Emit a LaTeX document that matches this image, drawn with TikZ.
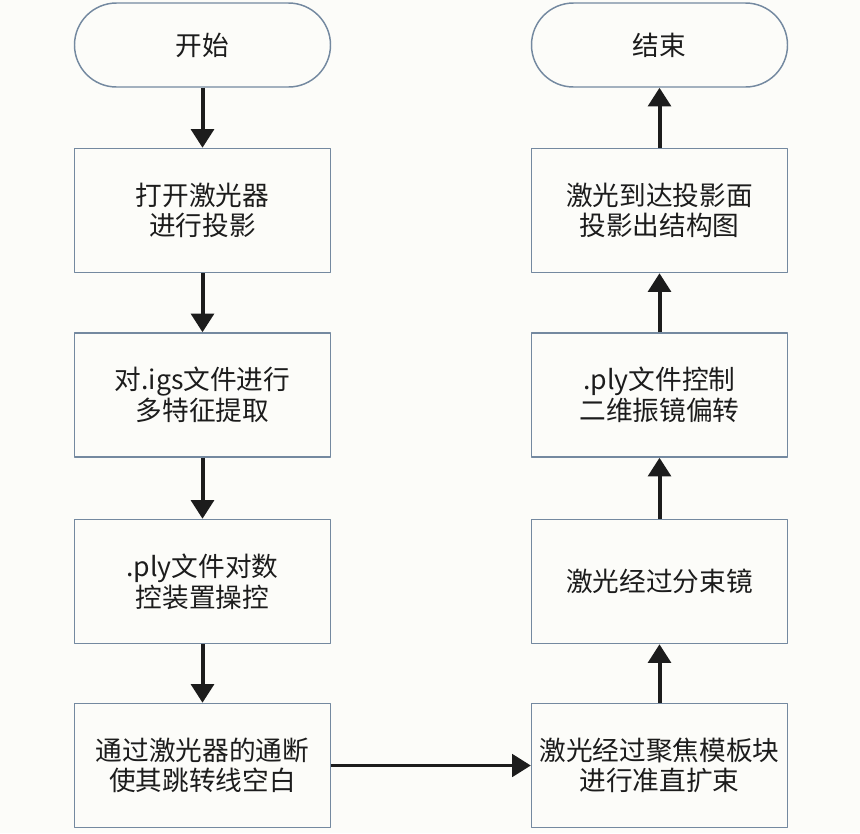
\documentclass[tikz,border=0pt]{standalone}
\usepackage{fontspec}
\setmainfont{Noto Sans CJK SC}
\usetikzlibrary{arrows.meta}
\definecolor{bg}{HTML}{FCFCF9}
\definecolor{edge}{HTML}{7489A0}
\definecolor{ink}{HTML}{1C1C1C}

\begin{document}
\begin{tikzpicture}[x=0.75pt,y=-0.75pt,line join=round,
  box/.style={draw=edge,line width=1.1pt,fill=bg,minimum width=192pt,minimum height=93pt,
    align=center,font=\fontsize{20}{23}\selectfont,text=ink},
  term/.style={box,minimum height=63pt,rounded corners=31.5pt},
  flow/.style={-{Triangle[width=17pt,length=14pt]},line width=3pt,ink}]
  \fill[bg] (0,0) rectangle (860,833);

  % ---- left column (top to bottom) ----
  \node[term] (start) at (202.5,45) {开始};
  \node[box] (laser) at (202.5,210.5) {打开激光器\\进行投影};
  \node[box] (igs) at (202.5,395) {对.igs文件进行\\多特征提取};
  \node[box] (ply) at (202.5,581.5) {.ply文件对数\\控装置操控};
  \node[box] (onoff) at (202.5,765.5) {通过激光器的通断\\使其跳转线空白};

  % ---- right column (bottom to top) ----
  \node[box] (focus) at (659.5,765.5) {激光经过聚焦模板块\\进行准直扩束};
  \node[box] (split) at (659.5,581.5) {激光经过分束镜};
  \node[box] (galvo) at (659.5,395) {.ply文件控制\\二维振镜偏转};
  \node[box] (proj) at (659.5,210.5) {激光到达投影面\\投影出结构图};
  \node[term] (stop) at (659.5,45) {结束};

  % ---- connectors ----
  \draw[flow] (start) -- (laser);
  \draw[flow] (laser) -- (igs);
  \draw[flow] (igs) -- (ply);
  \draw[flow] (ply) -- (onoff);
  \draw[flow,line width=2.2pt] (onoff) -- (focus);
  \draw[flow] (focus) -- (split);
  \draw[flow] (split) -- (galvo);
  \draw[flow] (galvo) -- (proj);
  \draw[flow] (proj) -- (stop);
\end{tikzpicture}
\end{document}
